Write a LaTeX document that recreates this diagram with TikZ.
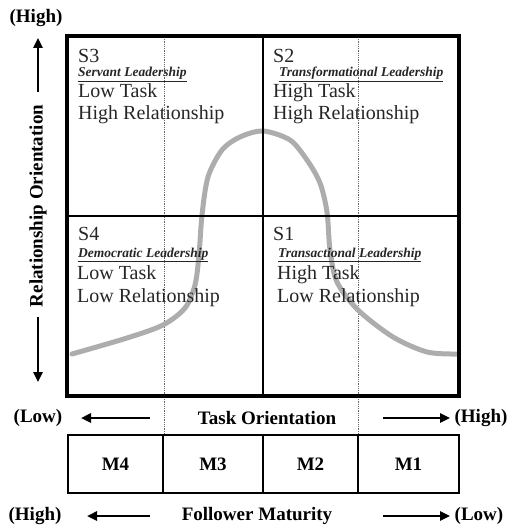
\documentclass[tikz,border=0pt]{standalone}
\usepackage{fontspec}
\setmainfont{Liberation Serif}
\usetikzlibrary{arrows.meta}
\begin{document}
\begin{tikzpicture}[x=1pt,y=-1pt,
  quad/.style={draw, line width=2.4pt, inner sep=0pt, minimum width=195pt, minimum height=179pt},
  mbox/.style={draw, line width=2.2pt, inner sep=0pt, minimum height=58pt, font=\fontsize{19}{22}\selectfont\bfseries},
  dotln/.style={densely dotted, line width=0.8pt, draw=black!60},
  ax/.style={line width=2.4pt, -{Triangle[length=10pt,width=9pt]}},
  blab/.style={font=\fontsize{19}{22}\selectfont\bfseries, inner sep=0pt},
  qt/.style={font=\fontsize{20}{23}\selectfont, anchor=base west, inner sep=0pt, text=black!85},
  ql/.style={font=\fontsize{13.5}{15}\selectfont\bfseries\itshape, anchor=base west, inner sep=0pt, text=black!85},
  curve/.style={line width=5pt, draw=black!32, line cap=round}]
\useasboundingbox (0,0) rectangle (509,529);
% dotted guides
\coordinate (d1t) at (164,37); \coordinate (d1b) at (164,435);
\coordinate (d2t) at (358,37); \coordinate (d2b) at (358,435);
\draw[dotln] (d1t) -- (d1b);
\draw[dotln] (d2t) -- (d2b);
% curve
\draw[curve] plot[smooth, tension=0.5] coordinates {(72,354) (127,338) (163,325) (185,308) (195,285) (199,255) (202,215) (208,177) (222,150) (240,137) (263,131) (290,140) (307,160) (320,183) (327,212) (330,250) (337,282) (358,310) (393,337) (427,352) (457,354)};
% quadrants
\node[quad] (q3) at (165.5,126.5) {};
\node[quad] (q2) at (360.5,126.5) {};
\node[quad] (q4) at (165.5,305.5) {};
\node[quad] (q1) at (360.5,305.5) {};
\draw[line width=3pt] (q3.north west) rectangle (q1.south east);
% quadrant texts
\node[qt] (s3) at (78,63) {S3};
\node[ql] (s3l) at (78,77) {\underline{Servant Leadership}};
\node[qt] (s3a) at (78,98) {Low Task};
\node[qt] (s3b) at (78,120) {High Relationship};
\node[qt] (s2) at (273,63) {S2};
\node[ql] (s2l) at (279,77) {\underline{Transformational Leadership}};
\node[qt] (s2a) at (273,98) {High Task};
\node[qt] (s2b) at (273,120) {High Relationship};
\node[qt] (s4) at (78,240) {S4};
\node[ql] (s4l) at (78,257) {\underline{Democratic Leadership}};
\node[qt] (s4a) at (77,279) {Low Task};
\node[qt] (s4b) at (77,302) {Low Relationship};
\node[qt] (s1) at (273,240) {S1};
\node[ql] (s1l) at (278,257) {\underline{Transactional Leadership}};
\node[qt] (s1a) at (277,279) {High Task};
\node[qt] (s1b) at (277,302) {Low Relationship};
% left axis
\node[blab] (hiL) at (36,18) {(High)};
\node[blab, rotate=90] (ro) at (38,206) {Relationship Orientation};
\coordinate (ra1) at (38,92); \coordinate (ra1t) at (38,38);
\coordinate (ra2) at (38,317); \coordinate (ra2t) at (38,382);
\draw[ax] (ra1) -- (ra1t);
\draw[ax] (ra2) -- (ra2t);
% task orientation row
\node[blab] (lowT) at (38,418) {(Low)};
\node[blab] (to) at (267,418) {Task Orientation};
\node[blab] (highT) at (481,418) {(High)};
\coordinate (ta1) at (150,418); \coordinate (ta1t) at (81,418);
\coordinate (ta2) at (383,418); \coordinate (ta2t) at (450,418);
\draw[ax] (ta1) -- (ta1t);
\draw[ax] (ta2) -- (ta2t);
% maturity boxes
\node[mbox, minimum width=95pt] (m4) at (115.5,464) {M4};
\node[mbox, minimum width=100pt] (m3) at (213,464) {M3};
\node[mbox, minimum width=95pt] (m2) at (310.5,464) {M2};
\node[mbox, minimum width=101pt] (m1) at (408.5,464) {M1};
% follower maturity row
\node[blab] (highF) at (35,516) {(High)};
\node[blab] (fm) at (257,516) {Follower Maturity};
\node[blab] (lowF) at (479,516) {(Low)};
\coordinate (fa1) at (150,516); \coordinate (fa1t) at (87,516);
\coordinate (fa2) at (383,516); \coordinate (fa2t) at (450,516);
\draw[ax] (fa1) -- (fa1t);
\draw[ax] (fa2) -- (fa2t);
\end{tikzpicture}
\end{document}
